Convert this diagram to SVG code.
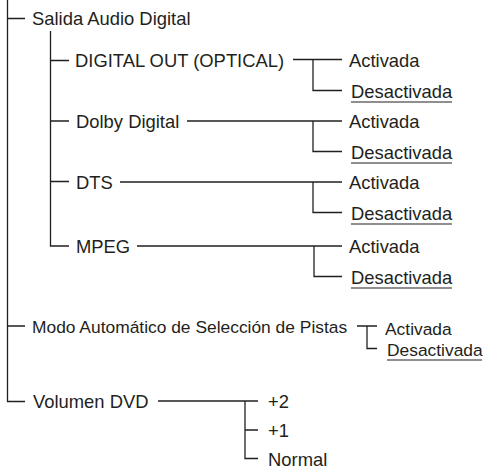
<svg xmlns="http://www.w3.org/2000/svg" width="485" height="469" viewBox="0 0 485 469">
<style>
.ln{stroke:#231f20;stroke-width:1.3;fill:none}
.t{font-family:"Liberation Sans",Arial,sans-serif;font-size:18.4px;fill:#231f20}
.s{font-size:17.4px}
.u{stroke:#231f20;stroke-width:1.2}
</style>
<rect width="485" height="469" fill="#fff"/>
<g id="connectors" class="ln">
<path d="M7.5 0V401.5H25M7.5 18.5H25M7.5 326H25"/>
<path d="M50.5 31V246H69M50.5 60.5H69M50.5 121H69M50.5 181.5H69"/>
<path d="M293 59.5H342M313 59.5V90.5H342"/>
<path d="M187 121H342M313 121V151.5H342"/>
<path d="M120 182H342M313 182V212.5H342"/>
<path d="M137 246H342M314 246V276.5H342"/>
<path d="M357 326H377M367 326V348.5H377"/>
<path d="M158 401H258M245 401V458.5H258M245 430H258"/>
</g>
<g id="n-salida"><text class="t" x="32" y="25">Salida Audio Digital</text></g>
<g id="n-optical"><text class="t" x="75" y="67">DIGITAL OUT (OPTICAL)</text></g>
<g id="n-optical-on"><text class="t" x="349" y="67">Activada</text></g>
<g id="n-optical-off"><text class="t" x="351" y="97.5">Desactivada</text><line class="u" x1="351" y1="102" x2="452" y2="102"/></g>
<g id="n-dolby"><text class="t" x="76" y="128">Dolby Digital</text></g>
<g id="n-dolby-on"><text class="t" x="349" y="128">Activada</text></g>
<g id="n-dolby-off"><text class="t" x="351" y="158.5">Desactivada</text><line class="u" x1="351" y1="163" x2="452" y2="163"/></g>
<g id="n-dts"><text class="t" x="76" y="189">DTS</text></g>
<g id="n-dts-on"><text class="t" x="349" y="189">Activada</text></g>
<g id="n-dts-off"><text class="t" x="351" y="219.5">Desactivada</text><line class="u" x1="351" y1="224" x2="452" y2="224"/></g>
<g id="n-mpeg"><text class="t" x="76" y="253">MPEG</text></g>
<g id="n-mpeg-on"><text class="t" x="349" y="253">Activada</text></g>
<g id="n-mpeg-off"><text class="t" x="351" y="283.5">Desactivada</text><line class="u" x1="351" y1="288" x2="452" y2="288"/></g>
<g id="n-modo"><text class="t s" x="32" y="332.5">Modo Automático de Selección de Pistas</text></g>
<g id="n-modo-on"><text class="t s" x="385" y="335">Activada</text></g>
<g id="n-modo-off"><text class="t s" x="387" y="355.5">Desactivada</text><line class="u" x1="387" y1="360" x2="482" y2="360"/></g>
<g id="n-vol"><text class="t" x="33" y="408">Volumen DVD</text></g>
<g id="n-vol-2"><text class="t" x="268" y="408">+2</text></g>
<g id="n-vol-1"><text class="t" x="268" y="437">+1</text></g>
<g id="n-vol-n"><text class="t" x="268" y="465.5">Normal</text></g>
</svg>
